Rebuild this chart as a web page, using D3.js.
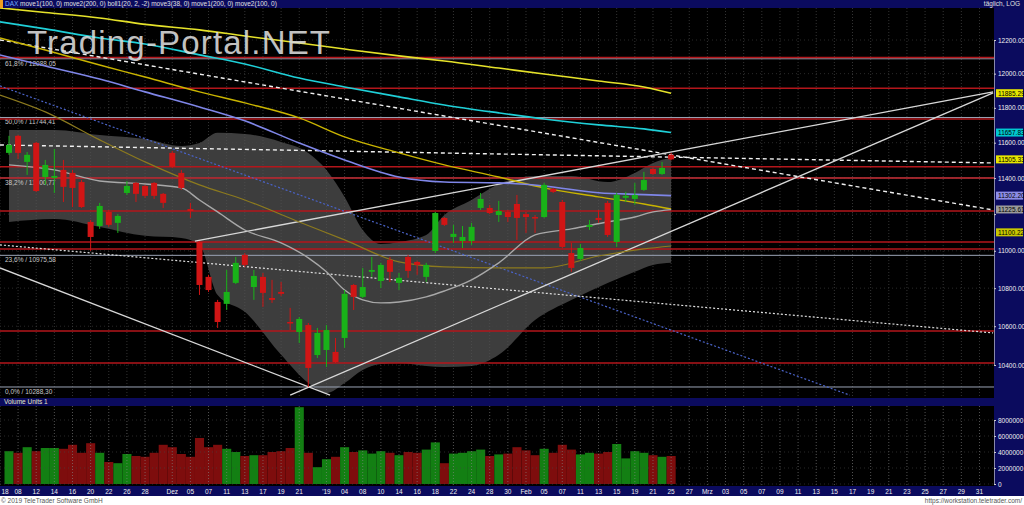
<!DOCTYPE html>
<html><head><meta charset="utf-8">
<script src="https://cdn.jsdelivr.net/npm/d3@7"></script>
<style>body{margin:0;background:#fff}svg{display:block}text{font-family:"Liberation Sans",Arial,sans-serif}</style>
</head><body><svg id="c" width="1024" height="505"></svg>
<script>
// ---------- DATA ----------
const open  = [11542,11639,11491,11599,11406,11401,11446,11429,11378,11157,11135,11212,11152,11317,11373,11356,11373,11312,11542,11429,11228,11048,10860,10727,10717,10828,10978,10806,10860,10748,10780,10622,10570,10606,10451,10477,10467,10539,10817,10754,10887,10838,10951,10828,10967,10940,10860,10999,11179,11075,11053,11053,11234,11234,11195,11212,11256,11200,11184,11184,11340,11267,10988,10956,11130,11179,11262,11048,11290,11284,11334,11451,11423,11531];
const high  = [11639,11644,11547,11604,11502,11564,11502,11446,11389,11168,11262,11223,11200,11384,11378,11362,11378,11317,11553,11446,11262,11053,10871,10738,10897,10967,10988,10897,10881,10844,10833,10696,10648,10617,10591,10606,10539,10790,10822,10908,10967,10935,10967,10881,10978,10946,10935,11212,11184,11141,11135,11152,11317,11251,11273,11223,11306,11212,11195,11373,11345,11278,11043,11037,11168,11223,11273,11317,11323,11373,11435,11457,11491,11542];
const low   = [11531,11508,11418,11323,11362,11317,11267,11239,11234,10999,11119,11130,11097,11306,11267,11290,11284,11234,11457,11334,11179,10764,10780,10591,10685,10822,10913,10738,10701,10722,10759,10580,10513,10288,10436,10390,10410,10488,10685,10748,10860,10801,10833,10790,10855,10871,10833,10988,11135,11043,11015,11032,11223,11200,11157,11157,11059,11097,11097,11179,11317,11015,10887,10946,11113,11152,11075,11021,11267,11251,11328,11418,11418,11500];
const close = [11587,11542,11531,11328,11474,11412,11351,11345,11239,11075,11245,11141,11190,11356,11312,11301,11301,11262,11463,11345,11217,10817,10790,10622,10780,10935,10924,10865,10775,10738,10770,10617,10638,10385,10565,10580,10415,10770,10754,10806,10897,10924,10887,10855,10892,10924,10924,11206,11141,11092,11075,11130,11284,11206,11217,11184,11179,11184,11179,11362,11323,11021,10908,11015,11141,11168,11086,11306,11301,11306,11389,11423,11457,11505.33];
const volume = [4.1,3.9,4.6,4.1,4.5,4.5,4.4,4.9,3.9,5.1,3.9,2.75,2.6,3.75,3.5,3.4,3.9,4.9,4.6,3.75,3.4,5.75,4.6,4.9,4.4,4.0,3.5,3.6,3.6,4.0,4.1,4.5,9.6,3.9,2.1,3.1,3.4,
  4.6,4.0,4.2,3.8,4.1,3.9,3.6,4.0,3.9,4.3,5.2,2.6,3.8,3.9,4.1,4.3,3.5,3.7,3.8,4.6,4.2,3.6,4.4,3.9,4.9,4.3,3.7,3.9,3.8,4.0,5.0,3.2,4.1,3.9,3.6,3.4,3.5].map(v=>v*1e6);

// x-axis labels (slot = trading-day index; future slots = calendar days)
const xLabels = ["18","08","12","14","16","20","22","26","28","Dez","05","07","11","13","17","19","21","'19","04","08","10","14","16","18","22","24","28","30","Feb","05","07","11","13","15","19","21","25","27","Mrz","03","05","07","09","11","13","15","17","19","21","23","25","27","29","31"];
const xLabelSlots = [-1,1,3,5,7,9,11,13,15,18,20,22,24,26,28,30,32,35,37,39,41,43,45,47,49,51,53,55,57,59,61,63,65,67,69,71,73,75,77,79,81,83,85,87,89,91,93,95,97,99,101,103,105,107];

const priceTicks = [10400,10600,10800,11000,11200,11400,11600,11800,12000,12200];
const volTicks = [0,2e6,4e6,6e6,8e6];

// moving averages, sampled at slots
const maSlots = [-1,4,10,15,21,26,32,37,43,48,54,59,65,70,73];
const maYellow   = [12394,12366,12333,12294,12261,12224,12182,12146,12105,12075,12033,11998,11957,11922,11885.29];
const maCyan     = [12309,12267,12212,12176,12111,12057,11974,11922,11864,11817,11771,11736,11702,11679,11657.83];
const maLavender = [12111,12045,11968,11893,11805,11725,11598,11502,11406,11378,11373,11356,11318,11308,11302.20];
const maGold     = [12212,12140,12051,11980,11893,11829,11742,11633,11542,11474,11406,11345,11295,11256,11228];
const maOlive    = [11875,11777,11616,11491,11362,11278,11157,11059,10940,10913,10908,10908,10972,11010,11026];

// Bollinger band (20,2), sampled at slots
const bandSlots = [0,5,10,15,19,21,23,26,30,33,35,37,39,41,43,46,48,51,54,58,62,66,69,71,73];
const bollUpper = [11673,11673,11644,11621,11581,11598,11656,11650,11604,11542,11446,11295,11113,11037,11048,11086,11195,11278,11367,11412,11412,11378,11429,11485,11514];
const bollMid   = [11474,11446,11384,11367,11345,11278,11212,11113,11043,10962,10887,10790,10738,10722,10727,10754,10785,10844,10935,11086,11119,11157,11184,11212,11225];
const bollLower = [11157,11173,11130,11081,11070,11032,10764,10675,10452,10308,10257,10308,10375,10405,10410,10395,10390,10395,10452,10633,10738,10828,10887,10924,10935];

// horizontal support / resistance levels
const redLevels = [12095,11915,11736,11463,11400,11217,11048,11010,10575,10410];
// Fibonacci retracement
const fibNames = ["61,8%","50,0%","38,2%","23,6%","0,0%"];
const fibValues = [12088.05,11744.41,11400.77,10975.58,10288.30];

// trend lines: [slot1, value1, slot2, value2]
const trendSolid  = [[20.5,11053,108.5,11893],[31,10247,108.5,11887],[-1,10908,35.4,10247]];
const trendDotted = [[-1,11032,108.5,10565]];
const trendDashed = [[-1,11587,108.5,11485],[-1,12200,108.5,11223]];
const trendBlue   = [[-1,11928,92.7,10247]];

// last-value boxes on price axis
const boxValues = [11885.29,11657.83,11505.33,11302.20,11225.61,11100.22];
const boxColors = ["#e6e600","#00c8d0","#e6e600","#8c8ce6","#9a9a9a","#c8c800"];

// ---------- LAYOUT ----------
const W=1024, H=505, plotR=994, plotT=8, plotB=396, volT=406, volB=485;
const NAVY="#0b0b5e";
const svg=d3.select('#c');
const x=d3.scaleLinear().domain([0,73]).range([9,9+9.07*73]);
const y=d3.scaleLog().domain([10400,12200]).range([365,40]);
const yv=d3.scaleLinear().domain([0,8e6]).range([volB-1,420]);
const fmt=d=>d.toFixed(2);

svg.append('rect').attr('width',W).attr('height',H).attr('fill','#fff');
svg.append('rect').attr('width',W).attr('height',496).attr('fill','#000');

const defs=svg.append('defs');
defs.append('clipPath').attr('id','cp').append('rect').attr('x',0).attr('y',plotT).attr('width',plotR).attr('height',plotB-plotT);
defs.append('clipPath').attr('id','cv').append('rect').attr('x',0).attr('y',volT).attr('width',plotR).attr('height',volB-volT);

const main=svg.append('g').attr('clip-path','url(#cp)');

// Bollinger fill
const bandData=bandSlots.map((s,i)=>({s,u:bollUpper[i],l:bollLower[i],m:bollMid[i]}));
main.append('path').datum(bandData)
  .attr('d',d3.area().x(d=>x(d.s)).y0(d=>y(d.l)).y1(d=>y(d.u)).curve(d3.curveMonotoneX))
  .attr('fill','#3d3d3d');

// grid
main.selectAll('.vg').data(xLabelSlots).join('line')
  .attr('x1',d=>x(d)).attr('x2',d=>x(d)).attr('y1',plotT).attr('y2',plotB)
  .attr('stroke','#555').attr('stroke-width',0.6).attr('stroke-dasharray','1,2');
main.selectAll('.hg').data(priceTicks).join('line')
  .attr('x1',0).attr('x2',plotR).attr('y1',d=>y(d)).attr('y2',d=>y(d))
  .attr('stroke','#444').attr('stroke-width',0.6).attr('stroke-dasharray','1,3');

// fib lines
main.selectAll('.fib').data(fibValues).join('line')
  .attr('x1',0).attr('x2',plotR).attr('y1',d=>y(d)).attr('y2',d=>y(d))
  .attr('stroke','#9aa3b5').attr('stroke-width',1);
main.selectAll('.fibt').data(fibValues).join('text')
  .attr('x',5).attr('y',d=>y(d)+7).attr('font-size',6.5).attr('fill','#c8c8c8')
  .text((d,i)=>fibNames[i]+" / "+d.toFixed(2).replace('.',','));

// red levels
main.selectAll('.rl').data(redLevels).join('line')
  .attr('x1',0).attr('x2',plotR).attr('y1',d=>y(d)).attr('y2',d=>y(d))
  .attr('stroke','#b3161b').attr('stroke-width',1.5);

// trend lines
function tl(arr,color,w,dash){
  main.selectAll(null).data(arr).join('line')
   .attr('x1',d=>x(d[0])).attr('y1',d=>y(d[1])).attr('x2',d=>x(d[2])).attr('y2',d=>y(d[3]))
   .attr('stroke',color).attr('stroke-width',w).attr('stroke-dasharray',dash||null);
}
tl(trendBlue,'#4a63c8',1.2,'2,2');
tl(trendDotted,'#e0e0e0',1.2,'2,2');
tl(trendDashed,'#f0f0f0',1.4,'4,3');
tl(trendSolid,'#d8d8d8',1.3);

// MAs
const line=d3.line().x(d=>x(d[0])).y(d=>y(d[1])).curve(d3.curveMonotoneX);
function ma(vals,color,w){
  main.append('path').datum(maSlots.map((s,i)=>[s,vals[i]])).attr('d',line)
   .attr('fill','none').attr('stroke',color).attr('stroke-width',w);
}
ma(maOlive,'#8c7a1e',1.2);
ma(maGold,'#c9b400',1.4);
ma(maLavender,'#7f86e8',1.6);
ma(maCyan,'#1fd0d8',1.6);
ma(maYellow,'#e5e22a',1.6);
main.append('path').datum(bandData.map(d=>[d.s,d.m])).attr('d',line)
  .attr('fill','none').attr('stroke','#a8a8a8').attr('stroke-width',1.4);

// candles
const idx=d3.range(open.length);
const up=i=>close[i]>=open[i];
main.selectAll('.wick').data(idx).join('line')
  .attr('x1',i=>x(i)).attr('x2',i=>x(i)).attr('y1',i=>y(high[i])).attr('y2',i=>y(low[i]))
  .attr('stroke',i=>up(i)?'#19b219':'#d01515').attr('stroke-width',1);
main.selectAll('.body').data(idx).join('rect')
  .attr('x',i=>x(i)-3).attr('width',6)
  .attr('y',i=>y(Math.max(open[i],close[i])))
  .attr('height',i=>Math.max(1.5,Math.abs(y(open[i])-y(close[i]))))
  .attr('fill',i=>up(i)?'#19b219':'#d01515');

// watermark
svg.append('text').attr('x',27).attr('y',54).attr('font-size',33).attr('textLength',303)
  .attr('fill','#dcdcdc').attr('opacity',0.88).text('Trading-Portal.NET');

// ---------- VOLUME ----------
const vol=svg.append('g').attr('clip-path','url(#cv)');
vol.selectAll('rect').data(idx).join('rect')
  .attr('x',i=>x(i)-4.5).attr('width',9.07)
  .attr('y',i=>yv(volume[i])).attr('height',i=>yv(0)-yv(volume[i]))
  .attr('fill',i=>up(i)?'#137f13':'#7e0d0d');
vol.selectAll('.vg').data(xLabelSlots).join('line')
  .attr('x1',d=>x(d)).attr('x2',d=>x(d)).attr('y1',volT).attr('y2',volB)
  .attr('stroke','#8a8a8a').attr('stroke-width',0.6).attr('stroke-dasharray','1,2');
vol.selectAll('.hg').data(volTicks).join('line')
  .attr('x1',0).attr('x2',plotR).attr('y1',d=>yv(d)).attr('y2',d=>yv(d))
  .attr('stroke','#444').attr('stroke-width',0.6).attr('stroke-dasharray','1,3');

// ---------- FRAME / AXES ----------
svg.append('rect').attr('x',0).attr('y',0).attr('width',W).attr('height',8).attr('fill',NAVY);
svg.append('rect').attr('x',0).attr('y',398).attr('width',plotR).attr('height',8).attr('fill',NAVY);
svg.append('rect').attr('x',plotR).attr('y',8).attr('width',W-plotR).attr('height',478).attr('fill',NAVY);
svg.append('rect').attr('x',0).attr('y',486).attr('width',W).attr('height',10).attr('fill',NAVY);
svg.append('rect').attr('x',0).attr('y',0).attr('width',3).attr('height',8).attr('fill','#f0a020');
svg.append('text').attr('x',5).attr('y',6).attr('font-size',6.5).attr('fill','#6fa8ff').text('DAX');
svg.append('text').attr('x',20).attr('y',6).attr('font-size',6.5).attr('fill','#e0e0e0')
  .text('move1(100, 0) move2(200, 0) boll1(20, 2, -2) move3(38, 0) move1(200, 0) move2(100, 0)');
svg.append('text').attr('x',1020).attr('y',6).attr('font-size',6.5).attr('fill','#e0e0e0').attr('text-anchor','end').text('täglich, LOG');
svg.append('text').attr('x',4).attr('y',404).attr('font-size',6.5).attr('fill','#e8e8c8').text('Volume Units 1');

const ax=svg.append('g').attr('transform',`translate(${plotR},0)`)
  .call(d3.axisRight(y).tickValues(priceTicks).tickFormat(fmt).tickSize(2));
ax.select('.domain').attr('stroke','#8888aa');
ax.selectAll('text').attr('font-size',6.5).attr('fill','#f0f0f0').attr('x',4)
  .attr('display',d=>boxValues.some(b=>Math.abs(y(b)-y(d))<8)?'none':null);
ax.selectAll('line').attr('stroke','#ccc');

const axv=svg.append('g').attr('transform',`translate(${plotR},0)`)
  .call(d3.axisRight(yv).tickValues(volTicks).tickFormat(d3.format('d')).tickSize(2));
axv.select('.domain').attr('stroke','#8888aa');
axv.selectAll('text').attr('font-size',6.5).attr('fill','#f0f0f0').attr('x',4);
axv.selectAll('line').attr('stroke','#ccc');

// value boxes
const bx=svg.append('g');
bx.selectAll('rect').data(boxValues).join('rect')
  .attr('x',plotR+2).attr('width',27).attr('y',d=>y(d)-4).attr('height',8).attr('fill',(d,i)=>boxColors[i]);
bx.selectAll('text').data(boxValues).join('text')
  .attr('x',plotR+4).attr('y',d=>y(d)+2.5).attr('font-size',6.5).attr('fill','#000').text(fmt);

// x axis labels
svg.append('g').selectAll('text').data(xLabels).join('text')
  .attr('x',(d,i)=>Math.max(x(xLabelSlots[i]),5)).attr('y',494).attr('text-anchor','middle')
  .attr('font-size',6.5).attr('fill','#f0f0f0').text(d=>d);

// footer
svg.append('text').attr('x',1).attr('y',503).attr('font-size',6.5).attr('fill','#555').text('© 2019 TeleTrader Software GmbH');
svg.append('text').attr('x',1022).attr('y',503).attr('font-size',6.5).attr('fill','#555').attr('text-anchor','end').text('https://workstation.teletrader.com/');
</script></body></html>
